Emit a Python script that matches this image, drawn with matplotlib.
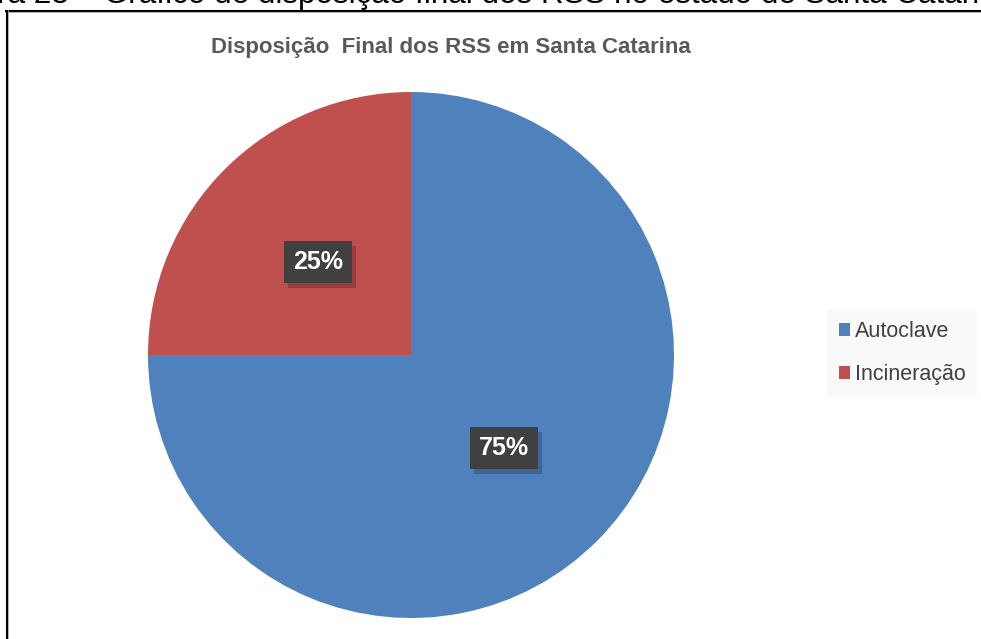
import matplotlib.pyplot as plt
from matplotlib.lines import Line2D
from matplotlib.patches import Patch, Rectangle

# data
labels = ["Autoclave", "Incineração"]
values = [75, 25]
colors = ["#4F81BD", "#C0504D"]
title = "Disposição  Final dos RSS em Santa Catarina"
caption = "Figura 23 – Gráfico de disposição final dos RSS no estado de Santa Catarina"

W, H = 981, 639
fig = plt.figure(figsize=(W / 100, H / 100), dpi=100)
fig.patch.set_facecolor("white")

font = ["Liberation Sans", "DejaVu Sans"]

# caption cut off at top of the page
fig.text(-64 / W, 1 - 3 / H, caption, fontsize=22.6, family=font,
         color="black", va="baseline", ha="left")

# frame of the chart object (top and left sides visible)
fig.add_artist(Line2D([6 / W, 1], [1 - 12 / H, 1 - 12 / H], color="#b0b0b0", lw=1.2,
                      transform=fig.transFigure))
fig.add_artist(Line2D([6 / W, 1], [1 - 10.5 / H, 1 - 10.5 / H], color="black", lw=1.5,
                      transform=fig.transFigure))
fig.add_artist(Line2D([8 / W, 8 / W], [0, 1 - 11 / H], color="#b0b0b0", lw=1.2,
                      transform=fig.transFigure))
fig.add_artist(Line2D([6.5 / W, 6.5 / W], [0, 1 - 10.5 / H], color="black", lw=1.5,
                      transform=fig.transFigure))

# pie
cx, cy, r = 411, 355, 263
ax = fig.add_axes([(cx - r) / W, (H - cy - r) / H, 2 * r / W, 2 * r / H])
wedges, texts, autotexts = ax.pie(values, colors=colors, startangle=90, counterclock=False,
                                  autopct="%d%%", pctdistance=0.5, radius=1,
                                  wedgeprops=dict(linewidth=0))
ax.set_xlim(-1, 1)
ax.set_ylim(-1, 1)
ax.axis("off")

for t in autotexts:
    t.set_fontsize(18)
    t.set_family(font)
    t.set_fontweight("bold")
    t.set_color("white")
    t.set_bbox(dict(boxstyle="square,pad=0.35", facecolor="#404040", edgecolor="none"))
    t.set_zorder(5)

# title
fig.text(451 / W, 1 - 47 / H, title, fontsize=16, family=font, fontweight="bold",
         color="#595959", ha="center", va="center")

# legend
handles = [Patch(facecolor=c, edgecolor="none") for c in colors]
leg = fig.legend(handles, labels, loc="center left", bbox_to_anchor=(816 / W, 1 - 353 / H),
                 frameon=True, fancybox=False, handlelength=0.55, handleheight=0.55,
                 handletextpad=0.2, labelspacing=1.05, borderpad=0.55,
                 prop=dict(family=font, size=15.5))
leg.get_frame().set_facecolor("#F8F8F8")
leg.get_frame().set_edgecolor("none")
for t in leg.get_texts():
    t.set_color("#404040")

# soft shadows behind the data label boxes
fig.canvas.draw()
for t in autotexts:
    bb = t.get_bbox_patch().get_window_extent()
    ax.add_artist(Rectangle((bb.x0 + 4, bb.y0 - 5), bb.width, bb.height,
                            transform=None, facecolor="black", alpha=0.22,
                            edgecolor="none", zorder=4))

fig.savefig("out.png", dpi=100)
